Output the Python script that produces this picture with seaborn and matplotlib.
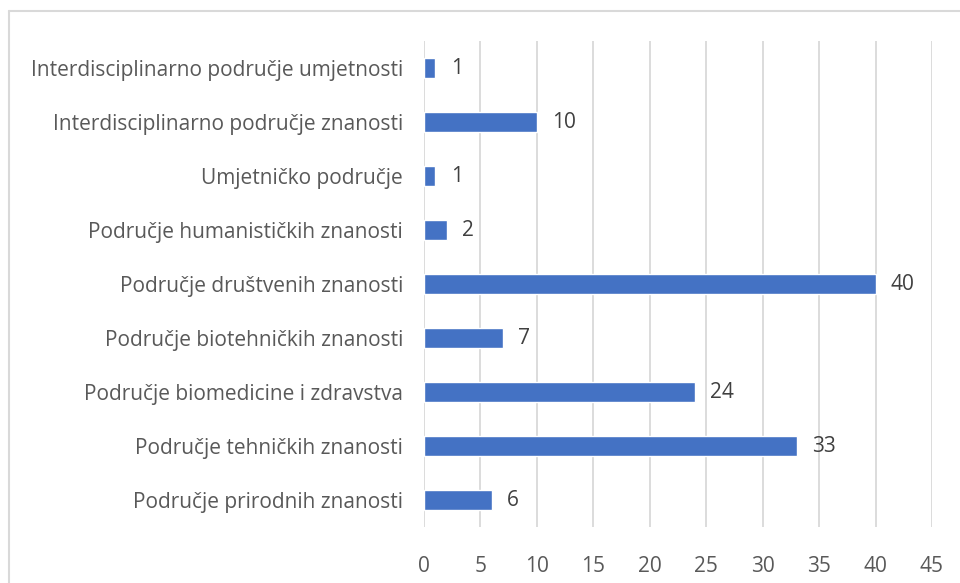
import matplotlib
matplotlib.use("Agg")
import matplotlib.pyplot as plt
from matplotlib.lines import Line2D
import pandas as pd
import seaborn as sns

categories = [
    "Interdisciplinarno područje umjetnosti",
    "Interdisciplinarno područje znanosti",
    "Umjetničko područje",
    "Područje humanističkih znanosti",
    "Područje društvenih znanosti",
    "Područje biotehničkih znanosti",
    "Područje biomedicine i zdravstva",
    "Područje tehničkih znanosti",
    "Područje prirodnih znanosti",
]
counts = [1, 10, 1, 2, 40, 7, 24, 33, 6]
xticks = [0, 5, 10, 15, 20, 25, 30, 35, 40, 45]

df = pd.DataFrame({"category": categories, "count": counts})

sns.set_theme(style="white")
plt.rcParams["font.family"] = ["Open Sans", "DejaVu Sans"]

fig = plt.figure(figsize=(9.6, 5.83), dpi=100)
ax = fig.add_axes([424 / 960, 56 / 583, 508 / 960, 486 / 583])

sns.barplot(data=df, x="count", y="category", orient="h", color="#4472C4",
            saturation=1, width=0.38, ax=ax)

ax.set_xlim(0, 45)
ax.set_xticks(xticks)
ax.xaxis.grid(True, color="#D9D9D9", linewidth=1.3)
ax.set_axisbelow(True)
for s in ax.spines.values():
    s.set_visible(False)
ax.tick_params(axis="both", length=0, colors="#595959", labelsize=15)
ax.tick_params(axis="x", pad=21)
ax.tick_params(axis="y", pad=15)
ax.set_xlabel("")
ax.set_ylabel("")

for c in ax.containers:
    ax.bar_label(c, padding=11, color="#404040", fontsize=15)

# chart frame (cropped on right/bottom)
fig.add_artist(Line2D([9 / 960, 1.0], [1 - 11 / 583, 1 - 11 / 583],
                      color="#D9D9D9", linewidth=1.5, transform=fig.transFigure))
fig.add_artist(Line2D([9 / 960, 9 / 960], [0, 1 - 11 / 583],
                      color="#D9D9D9", linewidth=1.5, transform=fig.transFigure))

fig.savefig("out.png", dpi=100)
